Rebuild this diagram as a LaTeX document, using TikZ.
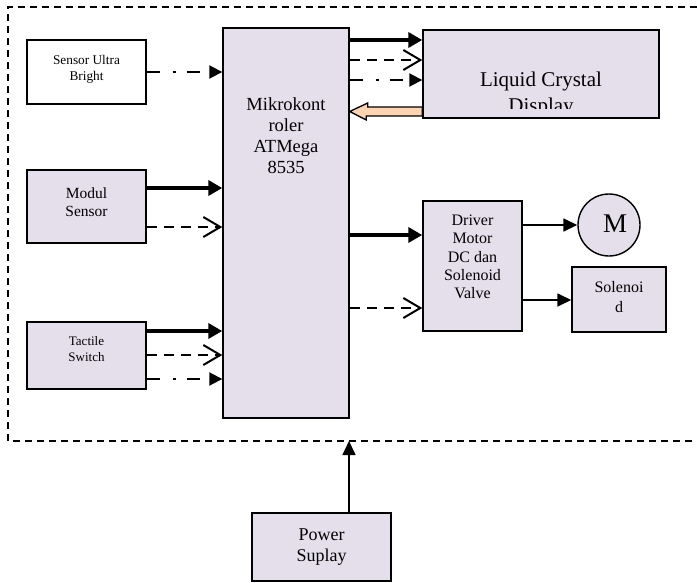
\documentclass[tikz,border=0pt]{standalone}
\usepackage{fontspec}
\setmainfont{Liberation Serif}
\usetikzlibrary{arrows.meta}
\definecolor{lav}{RGB}{229,223,236}
\definecolor{peach}{RGB}{251,212,180}
\begin{document}
\begin{tikzpicture}[x=1pt,y=-1pt,
 blk/.style={draw,line width=1.4pt,fill=lav,inner sep=0pt},
 txt/.style={align=center,inner sep=0pt},
 thk/.style={line width=4pt,-{Triangle[length=14pt,width=15pt]}},
 dsh/.style={line width=2pt,dash pattern=on 10pt off 7pt,-{Straight Barb[length=17pt,width=20pt,line width=2pt]}},
 dsd/.style={line width=2pt,dash pattern=on 13pt off 13pt on 3pt off 11pt,-{Triangle[length=13pt,width=13pt]}},
 thn/.style={line width=1.6pt,-{Triangle[length=14pt,width=13pt]}},
 bnd/.style={line width=1.2pt,dash pattern=on 7pt off 5pt}
]
\useasboundingbox (0,0) rectangle (697,582);
% boundary
\draw[bnd] (697,7) -- (8,7) -- (8,441) -- (697,441);
\coordinate (bin) at (349,441);

% blocks
\node[blk,fill=white,minimum width=119pt,minimum height=64pt] (sub) at (86.5,72) {};
\node[txt,font=\fontsize{13.3}{16}\selectfont] (subt) at (86.5,69) {Sensor Ultra\\Bright};
\node[blk,minimum width=119pt,minimum height=73pt] (mod) at (86.5,206.5) {};
\node[txt,font=\fontsize{15.5}{18.5}\selectfont] (modt) at (86.5,202) {Modul\\Sensor};
\node[blk,minimum width=119pt,minimum height=67pt] (tac) at (86.5,355.5) {};
\node[txt,font=\fontsize{13}{16}\selectfont] (tact) at (86.5,349) {Tactile\\Switch};
\node[blk,minimum width=126pt,minimum height=390pt] (mcu) at (286,223) {};
\node[txt,font=\fontsize{18.5}{21}\selectfont] (mcut) at (286,136) {Mikrokont\\roler\\ATMega\\8535};
\node[blk,minimum width=236pt,minimum height=88pt] (lcd) at (541,74) {};
\begin{scope}
\clip (425,32) rectangle (657,108);
\node[txt,font=\fontsize{21}{26}\selectfont] (lcdt) at (541,94) {Liquid Crystal\\Display};
\end{scope}
\node[blk,minimum width=99pt,minimum height=130pt] (drv) at (472.5,266) {};
\node[txt,font=\fontsize{16}{18.3}\selectfont] (drvt) at (472.5,257) {Driver\\Motor\\DC dan\\Solenoid\\Valve};
\node[blk,circle,minimum size=62pt] (mot) at (609,225) {};
\node[txt,font=\fontsize{27}{30}\selectfont] (mott) at (615,224) {M};
\node[blk,minimum width=94pt,minimum height=65pt] (sol) at (619,299.5) {};
\node[txt,font=\fontsize{16}{20}\selectfont] (solt) at (619,297) {Solenoi\\d};
\node[blk,minimum width=139pt,minimum height=68pt] (pwr) at (321.5,547) {};
\node[txt,font=\fontsize{18}{21}\selectfont] (pwrt) at (321.5,547) {Power\\Suplay};

% inputs to mcu
\draw[dsd] (sub.east |- 0,72) -- (mcu.west |- 0,72);
\draw[thk] (mod.east |- 0,188) -- (mcu.west |- 0,188);
\draw[dsh] (mod.east |- 0,227) -- (mcu.west |- 0,227);
\draw[thk] (tac.east |- 0,331) -- (mcu.west |- 0,331);
\draw[dsh] (tac.east |- 0,355) -- (mcu.west |- 0,355);
\draw[dsd] (tac.east |- 0,379) -- (mcu.west |- 0,379);

% mcu to lcd
\draw[thk] (mcu.east |- 0,40) -- (lcd.west |- 0,40);
\draw[dsh] (mcu.east |- 0,60) -- (lcd.west |- 0,60);
\draw[dsd] (mcu.east |- 0,80) -- (lcd.west |- 0,80);
\draw[line width=1.3pt,fill=peach] (mcu.east |- 0,111.5) -- ++(18,-8.5) -- ++(0,4)
  -- (lcd.west |- 0,107) -- (lcd.west |- 0,116) -- ++(-56,0) -- ++(0,4) -- cycle;

% mcu to driver
\draw[thk] (mcu.east |- 0,235) -- (drv.west |- 0,235);
\draw[dsh] (mcu.east |- 0,308) -- (drv.west |- 0,308);

% driver outputs
\draw[thn] (drv.east |- mot.west) -- (mot.west);
\draw[thn] (drv.east |- 0,300) -- (sol.west |- 0,300);

% power
\draw[thn] (pwr.north -| bin) -- (bin);
\end{tikzpicture}
\end{document}
